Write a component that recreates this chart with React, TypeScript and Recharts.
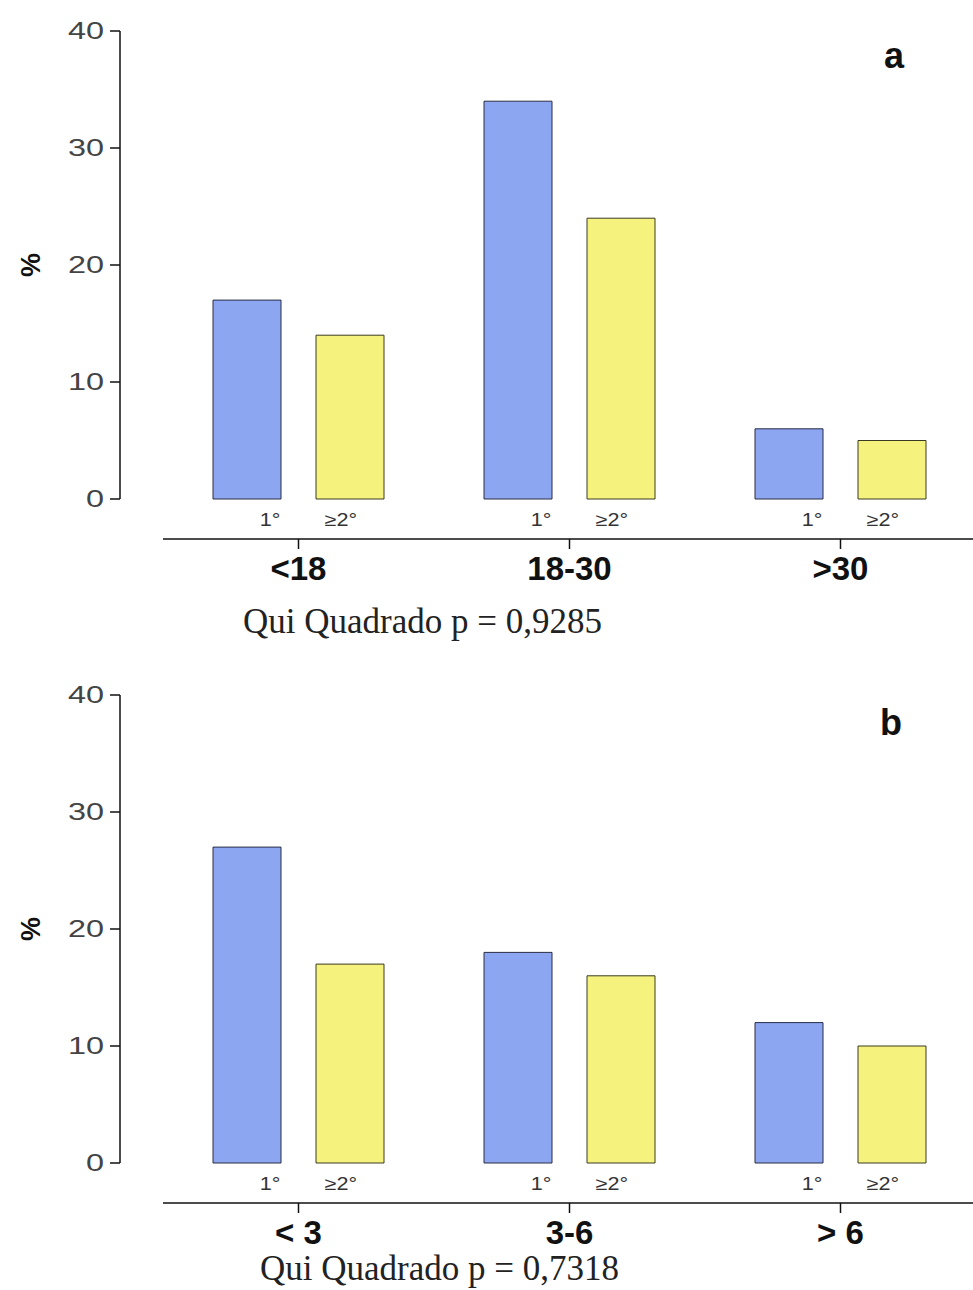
import { BarChart, Bar, XAxis, YAxis, LabelList, Label } from "recharts"

// age at first pregnancy (panel a) and interval groups (panel b)
const ageGroups = ["<18", "18-30", ">30"]
const ageFirst = [17, 34, 6]
const ageRepeat = [14, 24, 5]

const intervalGroups = ["< 3", "3-6", "> 6"]
const intervalFirst = [27, 18, 12]
const intervalRepeat = [17, 16, 10]

const seriesNames = ["1°", "≥2°"]
const yTicks = [0, 10, 20, 30, 40]

const BLUE = "#8CA6F2"
const YELLOW = "#F5F37E"
const SANS = "'Liberation Sans', Arial, sans-serif"
const SERIF = "'Liberation Serif', 'Times New Roman', serif"

// wide, light tick numbers
const YTick = ({ x, y, payload }: any) => (
  <g transform={`translate(${x} ${y}) scale(1.35 1)`}>
    <text x={0} y={0} dy={8} textAnchor="end" fontSize={24} fill="#444" fontFamily={SANS}>
      {payload.value}
    </text>
  </g>
)

const CatTick = ({ x, y, payload }: any) => (
  <text x={x} y={y} dy={31} textAnchor="middle" fontSize={33} fontWeight="bold" fill="#111" fontFamily={SANS}>
    {payload.value}
  </text>
)

const subLabel = (text: string, dx: number) => (props: any) => {
  const { x, y, width, height } = props
  const cx = x + width / 2 + dx
  const cy = y + height + 27
  return (
    <g transform={`translate(${cx} ${cy}) scale(1.2 1)`}>
      <text x={0} y={0} textAnchor="middle" fontSize={18} fill="#333" fontFamily={SANS}>
        {text}
      </text>
    </g>
  )
}

const PercentLabel = (props: any) => {
  const { viewBox } = props
  const cx = 31
  const cy = viewBox.y + viewBox.height / 2
  return (
    <text x={cx} y={cy} transform={`rotate(-90 ${cx} ${cy})`} textAnchor="middle" dominantBaseline="central"
      fontSize={27} fontWeight="bold" fill="#111" fontFamily={SANS}>
      %
    </text>
  )
}

interface PanelProps {
  groups: string[]
  first: number[]
  repeat: number[]
  top: number
}

function Panel({ groups, first, repeat, top }: PanelProps) {
  const rows = groups.map((g, i) => ({ group: g, first: first[i], repeat: repeat[i] }))
  return (
    <div style={{ position: "absolute", left: 0, top }}>
      <BarChart width={976} height={600} data={rows} margin={{ top: 31, right: 0, bottom: 0, left: 0 }}
        barSize={68} barGap={35}>
        <XAxis xAxisId="axisGap" dataKey="group" height={40} axisLine={false} tickLine={false} tick={false} />
        <XAxis xAxisId="axisMain" dataKey="group" height={61} axisLine={{ stroke: "#111", strokeWidth: 1.5 }}
          tickLine={{ stroke: "#111", strokeWidth: 1.5 }} tickSize={10} tickMargin={0} tick={<CatTick />} />
        <YAxis yAxisId="pad" width={43} domain={[0, 40]} ticks={yTicks} axisLine={false} tickLine={false} tick={false} />
        <YAxis yAxisId="vis" width={120} domain={[0, 40]} ticks={yTicks} interval={0}
          axisLine={{ stroke: "#111", strokeWidth: 1.5 }} tickLine={{ stroke: "#111", strokeWidth: 1.5 }}
          tickSize={10} tickMargin={6} tick={<YTick />}>
          <Label content={<PercentLabel />} />
        </YAxis>
        <Bar xAxisId="axisMain" yAxisId="vis" dataKey="first" name={seriesNames[0]} fill={BLUE} stroke="#2b2d45"
          strokeWidth={1} isAnimationActive={false}>
          <LabelList dataKey="first" content={subLabel(seriesNames[0], 23)} />
        </Bar>
        <Bar xAxisId="axisMain" yAxisId="vis" dataKey="repeat" name={seriesNames[1]} fill={YELLOW} stroke="#3a3a20"
          strokeWidth={1} isAnimationActive={false}>
          <LabelList dataKey="repeat" content={subLabel(seriesNames[1], -9)} />
        </Bar>
      </BarChart>
    </div>
  )
}

export default function App() {
  return (
    <div style={{ position: "absolute", left: 0, top: 0, width: 973, height: 1290, overflow: "hidden", background: "#fff" }}>
      <Panel groups={ageGroups} first={ageFirst} repeat={ageRepeat} top={0} />
      <Panel groups={intervalGroups} first={intervalFirst} repeat={intervalRepeat} top={664} />
      <svg width={973} height={1290} style={{ position: "absolute", left: 0, top: 0, pointerEvents: "none" }}>
        <text x={894} y={68} textAnchor="middle" fontSize={36} fontWeight="bold" fill="#111" fontFamily={SANS}>a</text>
        <text x={891} y={735} textAnchor="middle" fontSize={36} fontWeight="bold" fill="#111" fontFamily={SANS}>b</text>
        <text x={243} y={633} fontSize={35} fill="#222" fontFamily={SERIF}>Qui Quadrado p = 0,9285</text>
        <text x={260} y={1280} fontSize={35} fill="#222" fontFamily={SERIF}>Qui Quadrado p = 0,7318</text>
      </svg>
    </div>
  )
}
